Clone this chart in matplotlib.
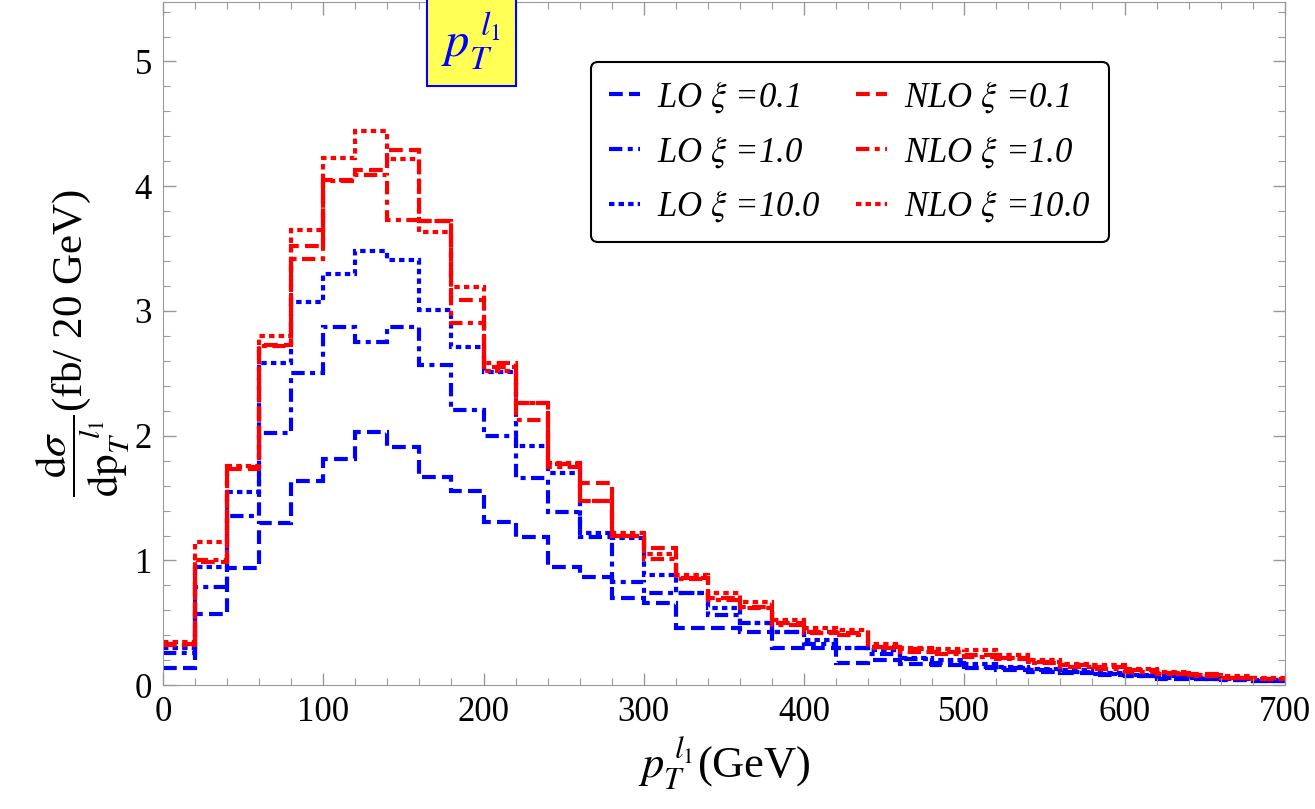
import numpy as np
import matplotlib
matplotlib.use('Agg')
import matplotlib.pyplot as plt
from matplotlib.ticker import MultipleLocator

plt.rcParams['font.family'] = ['Liberation Serif', 'DejaVu Serif']
plt.rcParams['mathtext.fontset'] = 'stix'

# bin edges (GeV), 20 GeV bins
edges = np.arange(0, 720, 20)

lo_01 = [0.14, 0.57, 0.94, 1.30, 1.64, 1.81, 2.03, 1.91, 1.67, 1.56, 1.31, 1.19, 0.95, 0.87,
         0.70, 0.66, 0.46, 0.46, 0.43, 0.30, 0.30, 0.18, 0.20, 0.17, 0.16, 0.14, 0.12, 0.11,
         0.10, 0.08, 0.07, 0.05, 0.05, 0.04, 0.03]
lo_10 = [0.26, 0.79, 1.36, 2.02, 2.50, 2.87, 2.75, 2.87, 2.57, 2.21, 2.00, 1.66, 1.39, 1.19,
         0.83, 0.74, 0.74, 0.56, 0.50, 0.43, 0.33, 0.30, 0.25, 0.21, 0.18, 0.15, 0.14, 0.12,
         0.11, 0.09, 0.07, 0.06, 0.05, 0.04, 0.03]
lo_100 = [0.30, 0.95, 1.55, 2.58, 3.07, 3.30, 3.48, 3.41, 3.01, 2.71, 2.51, 1.92, 1.70, 1.22,
          1.18, 0.88, 0.74, 0.62, 0.50, 0.43, 0.36, 0.30, 0.28, 0.22, 0.20, 0.17, 0.15, 0.13,
          0.12, 0.10, 0.08, 0.07, 0.06, 0.05, 0.04]
nlo_01 = [0.33, 0.99, 1.73, 2.73, 3.52, 4.05, 4.13, 4.29, 3.72, 3.09, 2.55, 2.26, 1.77, 1.62,
          1.20, 1.10, 0.86, 0.70, 0.63, 0.50, 0.43, 0.42, 0.31, 0.29, 0.27, 0.24, 0.22, 0.19,
          0.16, 0.15, 0.12, 0.10, 0.09, 0.06, 0.05]
nlo_10 = [0.32, 1.00, 1.75, 2.72, 3.42, 4.04, 4.09, 3.73, 3.72, 2.90, 2.58, 2.13, 1.75, 1.48,
          1.20, 1.01, 0.85, 0.68, 0.62, 0.48, 0.42, 0.40, 0.30, 0.27, 0.25, 0.23, 0.21, 0.18,
          0.15, 0.13, 0.11, 0.09, 0.07, 0.06, 0.05]
nlo_100 = [0.35, 1.15, 1.76, 2.80, 3.65, 4.23, 4.44, 4.22, 3.63, 3.19, 2.52, 2.26, 1.78, 1.48,
           1.22, 1.05, 0.88, 0.74, 0.67, 0.52, 0.46, 0.44, 0.33, 0.30, 0.29, 0.28, 0.24, 0.20,
           0.17, 0.16, 0.13, 0.11, 0.08, 0.07, 0.06]

labels = ['LO $\\xi$ =0.1', 'LO $\\xi$ =1.0', 'LO $\\xi$ =10.0',
          'NLO $\\xi$ =0.1', 'NLO $\\xi$ =1.0', 'NLO $\\xi$ =10.0']
series = [lo_01, lo_10, lo_100, nlo_01, nlo_10, nlo_100]
colors = ['#0000ff'] * 3 + ['#ff0000'] * 3
dash_styles = [(0, (3.3, 1.5)), (0, (3.2, 1.3, 1.2, 1.3)), (0, (1.3, 1.0))] * 2

fig = plt.figure(figsize=(13.15, 8.09), dpi=100)
ax = fig.add_axes([0.124, 0.153, 0.853, 0.845])

handles = []
for vals, c, ls, lab in zip(series, colors, dash_styles, labels):
    h = ax.stairs(vals, edges, baseline=None, color=c, linestyle=ls, linewidth=3.0, label=lab)
    handles.append(h)

ax.set_xlim(0, 700)
ax.set_ylim(0, 5.48)
ax.xaxis.set_major_locator(MultipleLocator(100))
ax.xaxis.set_minor_locator(MultipleLocator(20))
ax.yaxis.set_major_locator(MultipleLocator(1))
ax.yaxis.set_minor_locator(MultipleLocator(0.2))
ax.tick_params(which='both', direction='in', top=True, right=True, color='#999999',
               labelsize=25, pad=8)
ax.tick_params(which='major', length=9, width=1)
ax.tick_params(which='minor', length=5, width=0.8)
for sp in ax.spines.values():
    sp.set_color('#999999')

ax.set_xlabel(r'$p_T^{\ l_1}$(GeV)', fontsize=32, labelpad=4)
ax.set_ylabel(r'$\dfrac{\mathrm{d}\sigma}{\mathrm{dp}_T^{\ \ l_1}}$(fb/ 20 GeV)', fontsize=31,
              labelpad=2)

ax.text(0.275, 0.943, r'$p_T^{\ l_1}$', transform=ax.transAxes, fontsize=35, color='#0000ff',
        ha='center', va='center',
        bbox=dict(boxstyle='square,pad=0.3', facecolor='#ffff55', edgecolor='#0000ff',
                  linewidth=1.5))

leg = ax.legend(handles=handles, ncol=2, loc='upper right', bbox_to_anchor=(0.843, 0.912),
                borderaxespad=0, frameon=True, fancybox=True, handlelength=0.9,
                columnspacing=1.0, handletextpad=0.5, labelspacing=0.55,
                borderpad=0.5, prop={'style': 'italic', 'size': 25})
leg.get_frame().set_edgecolor('black')
leg.get_frame().set_linewidth(1.5)
leg.get_frame().set_alpha(1)

fig.savefig('out.png', dpi=100)
